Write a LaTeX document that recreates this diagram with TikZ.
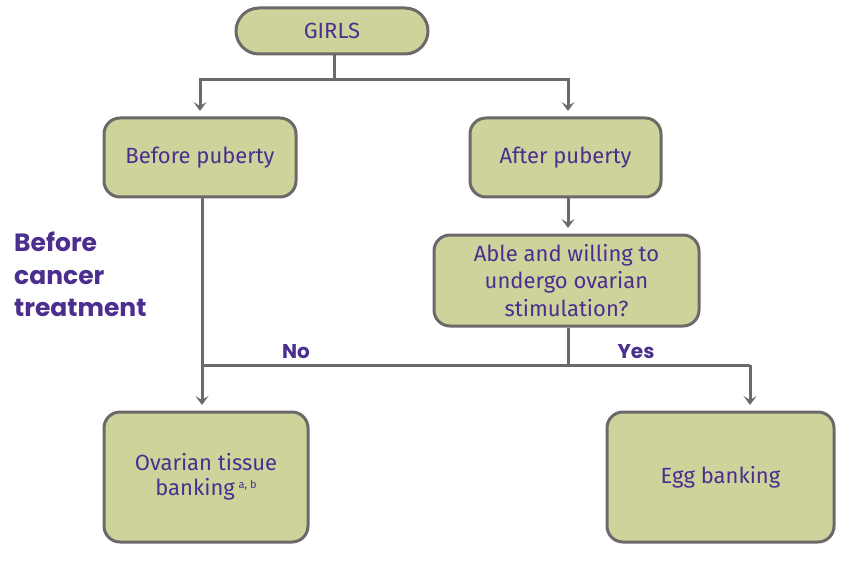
\documentclass[tikz,border=0pt]{standalone}
\usepackage{fontspec}
\setmainfont{Fira Sans}
\newfontfamily\boldfont{Poppins}
\usetikzlibrary{arrows.meta}
\definecolor{boxfill}{RGB}{205,211,155}
\definecolor{boxline}{RGB}{109,105,105}
\definecolor{txtpurple}{RGB}{75,47,143}
\tikzset{
  flowbox/.style={draw=boxline, line width=3pt, fill=boxfill, rounded corners=16pt,
    text=txtpurple, align=center, font=\fontsize{22}{27.5}\selectfont, inner sep=0pt},
  conn/.style={draw=boxline, line width=3pt},
  arr/.style={conn, -{Stealth[length=9pt,width=13pt,inset=4pt]}},
  lbl/.style={text=txtpurple, font=\boldfont\bfseries\fontsize{20}{22}\selectfont, inner sep=0pt}
}
\begin{document}
\begin{tikzpicture}[x=1pt,y=-1pt]
\useasboundingbox (0,0) rectangle (851,580);
\node[flowbox, rounded corners=23pt, minimum width=192pt, minimum height=46pt] (girls) at (332,31) {GIRLS};
\node[flowbox, minimum width=192pt, minimum height=79pt] (before) at (200,157.5) {Before puberty};
\node[flowbox, minimum width=191pt, minimum height=79pt] (after) at (565.5,157.5) {After puberty};
\node[flowbox, minimum width=265pt, minimum height=91pt] (able) at (566.5,280.5) {Able and willing to\\undergo ovarian\\stimulation?};
\node[flowbox, minimum width=204pt, minimum height=130pt, font=\fontsize{22}{28}\selectfont] (ovarian) at (206,477) {\raisebox{-3pt}{\shortstack{Ovarian tissue\\[5pt]banking\,\raisebox{7pt}{\fontsize{11}{11}\selectfont a, b}}}};
\node[flowbox, minimum width=227pt, minimum height=130pt] (egg) at (720.5,477) {\raisebox{-4pt}{Egg banking}};

\coordinate (split) at (334,80);
\coordinate (join) at (568,365);
\draw[conn] (girls.south -| split) -- (split);
\draw[arr] (split) -| (200,111);
\draw[arr] (split) -| (568,111);
\draw[arr] (after.south -| 568,0) -- (568,228);
\draw[conn] (able.south -| join) -- (join);
\draw[arr] (before.south -| 202,0) -- (202,405);
\draw[conn] (202,365) -- (750,365);
\draw[arr] (750,365) -- (750,405);

\node[lbl, anchor=base] (no) at (296,358) {No};
\node[lbl, anchor=base] (yes) at (636,358) {Yes};
\node[lbl, anchor=north west, align=left, font=\boldfont\bfseries\fontsize{25}{32.5}\selectfont] (phase) at (14,232) {Before\\cancer\\treatment};
\end{tikzpicture}
\end{document}
